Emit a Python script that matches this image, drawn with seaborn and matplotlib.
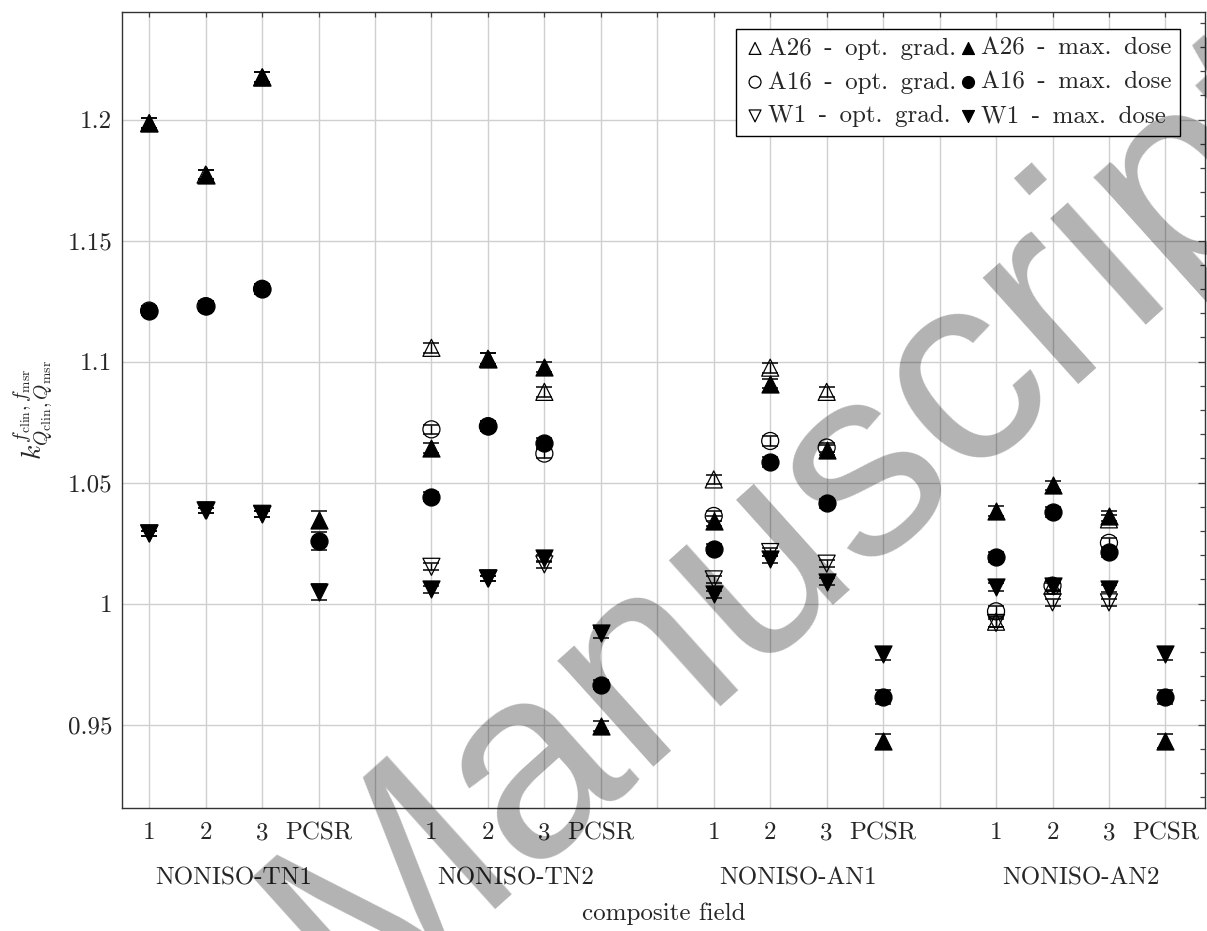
import numpy as np
import pandas as pd
import matplotlib
matplotlib.use('Agg')
import matplotlib.pyplot as plt
from matplotlib.ticker import MultipleLocator
import seaborn as sns

# composite fields (4 per group) and the groups they belong to
groups = ['NONISO-TN1', 'NONISO-TN2', 'NONISO-AN1', 'NONISO-AN2']
fields = ['1', '2', '3', 'PCSR']

nan = np.nan
# values, order: TN1 1,2,3,PCSR | TN2 ... | AN1 ... | AN2 ...
a26_opt = [1.1986, 1.1773, 1.2175, nan, 1.1057, 1.1012, 1.0875, nan,
           1.0513, 1.0975, 1.0875, nan, 0.9925, 1.0074, 1.0348, nan]
a26_max = [1.1986, 1.1773, 1.2175, 1.0347, 1.0644, 1.1012, 1.0977, 0.9493,
           1.0341, 1.0909, 1.0636, 0.9431, 1.0382, 1.0488, 1.0362, 0.9431]
a16_opt = [1.1211, 1.1229, 1.1301, nan, 1.0720, 1.0733, 1.0620, nan,
           1.0362, 1.0672, 1.0645, nan, 0.9968, 1.0074, 1.0251, nan]
a16_max = [1.1211, 1.1229, 1.1301, 1.0258, 1.0442, 1.0733, 1.0665, 0.9665,
           1.0227, 1.0585, 1.0414, 0.9614, 1.0193, 1.0378, 1.0212, 0.9614]
w1_opt = [1.0290, 1.0385, 1.0371, nan, 1.0152, 1.0104, 1.0162, nan,
          1.0100, 1.0213, 1.0165, nan, 0.9920, 1.0005, 1.0005, nan]
w1_max = [1.0290, 1.0385, 1.0371, 1.0046, 1.0059, 1.0104, 1.0187, 0.9879,
          1.0038, 1.0183, 1.0091, 0.9793, 1.0069, 1.0072, 1.0061, 0.9793]

# uncertainties (half length of the error bars)
a26_err = [0.0022, 0.0020, 0.0020, 0.0034, 0.0020, 0.0022, 0.0020, 0.0020,
           0.0020, 0.0020, 0.0020, 0.0030, 0.0020, 0.0020, 0.0020, 0.0030]
a16_err = [0.0020, 0.0020, 0.0020, 0.0037, 0.0020, 0.0020, 0.0020, 0.0020,
           0.0020, 0.0020, 0.0020, 0.0030, 0.0020, 0.0020, 0.0020, 0.0030]
w1_err = [0.0012, 0.0012, 0.0012, 0.0033, 0.0015, 0.0012, 0.0015, 0.0020,
          0.0015, 0.0015, 0.0015, 0.0028, 0.0015, 0.0015, 0.0015, 0.0028]

ytick_values = [0.95, 1.0, 1.05, 1.1, 1.15, 1.2]
ytick_labels = ['0.95', '1', '1.05', '1.1', '1.15', '1.2']

# series: label, values, errors, marker, filled
series = [
    ('A26 - opt. grad.', a26_opt, a26_err, '^', False),
    ('A26 - max. dose', a26_max, a26_err, '^', True),
    ('A16 - opt. grad.', a16_opt, a16_err, 'o', False),
    ('A16 - max. dose', a16_max, a16_err, 'o', True),
    ('W1 - opt. grad.', w1_opt, w1_err, 'v', False),
    ('W1 - max. dose', w1_max, w1_err, 'v', True),
]

# x position: group g, field k -> 5*g + k (one empty slot between groups)
xpos = [5 * g + k for g in range(len(groups)) for k in range(len(fields))]

rows = []
for label, vals, errs, m, filled in series:
    for x, v, e in zip(xpos, vals, errs):
        rows.append({'x': x, 'k': v, 'err': e, 'series': label})
df = pd.DataFrame(rows)

sns.set_style('white')
plt.rcParams['font.family'] = ['cmr10', 'DejaVu Serif']
plt.rcParams['mathtext.fontset'] = 'cm'
plt.rcParams['axes.formatter.use_mathtext'] = True
plt.rcParams['font.size'] = 18

fig = plt.figure(figsize=(12.07, 9.31), dpi=100)
ax = fig.add_axes([0.1011, 0.1321, 0.8972, 0.8550])

for label, vals, errs, m, filled in series:
    d = df[df['series'] == label].dropna()
    ax.errorbar(d['x'], d['k'], yerr=d['err'], fmt='none', ecolor='black',
                elinewidth=1.0, capsize=5.8, capthick=1.1, zorder=3)
    # TeX-like wider word spacing in the legend
    sns.scatterplot(data=d, x='x', y='k', marker=m, s=150, ax=ax,
                    facecolor='black' if filled else 'none',
                    edgecolor='black', linewidth=0.9, zorder=3,
                    label=label.replace(' ', '\u2002'))

# watermark of the manuscript, laid over everything like a stamp
ax.text(0.663, 0.441, 'Manuscript', transform=fig.transFigure, rotation=42,
        fontsize=195, color='black', alpha=0.3, family='Liberation Sans',
        ha='center', va='center', zorder=10, clip_on=False)

ax.set_xlim(-0.48, 18.7)
ax.set_ylim(0.9155, 1.2445)

all_x = list(range(5 * len(groups) - 1))
xlabels = ['' for _ in all_x]
for i, x in enumerate(xpos):
    xlabels[x] = fields[i % len(fields)]
ax.set_xticks(all_x)
ax.set_xticklabels(xlabels)
ax.set_yticks(ytick_values)
ax.set_yticklabels(ytick_labels)
ax.yaxis.set_minor_locator(MultipleLocator(0.01))
ax.tick_params(axis='both', which='both', direction='in', top=True, right=True,
               color='#444444', width=0.9)
ax.tick_params(axis='y', which='major', length=5, pad=7)
ax.tick_params(axis='y', which='minor', length=3.5)
ax.tick_params(axis='x', which='major', length=3.5, pad=10)
ax.grid(True, which='major', color='#cfcfcf', linewidth=1.0)
ax.set_axisbelow(True)
for sp in ax.spines.values():
    sp.set_color('#333333')
    sp.set_linewidth(1.0)

for g, name in enumerate(groups):
    ax.text(5 * g + 1.5, -0.088, name, transform=ax.get_xaxis_transform(),
            ha='center', va='center')

ax.set_xlabel('composite field', labelpad=42)
ax.set_ylabel(r'$k_{Q_{\mathrm{clin}},Q_{\mathrm{msr}}}^{f_{\mathrm{clin}},f_{\mathrm{msr}}}$',
              labelpad=9, fontsize=20)

h, l = ax.get_legend_handles_labels()
order = [0, 2, 4, 1, 3, 5]
leg = ax.legend([h[i] for i in order], [l[i] for i in order], ncol=2,
                loc='upper right', bbox_to_anchor=(0.977, 0.979),
                borderaxespad=0, fancybox=False, framealpha=1,
                edgecolor='black', markerscale=0.7, handletextpad=0.1,
                handlelength=0.8, columnspacing=0.1, labelspacing=0.45,
                borderpad=0.35, fontsize=18)
leg.get_frame().set_linewidth(1.0)

fig.savefig('out.png', dpi=100)
